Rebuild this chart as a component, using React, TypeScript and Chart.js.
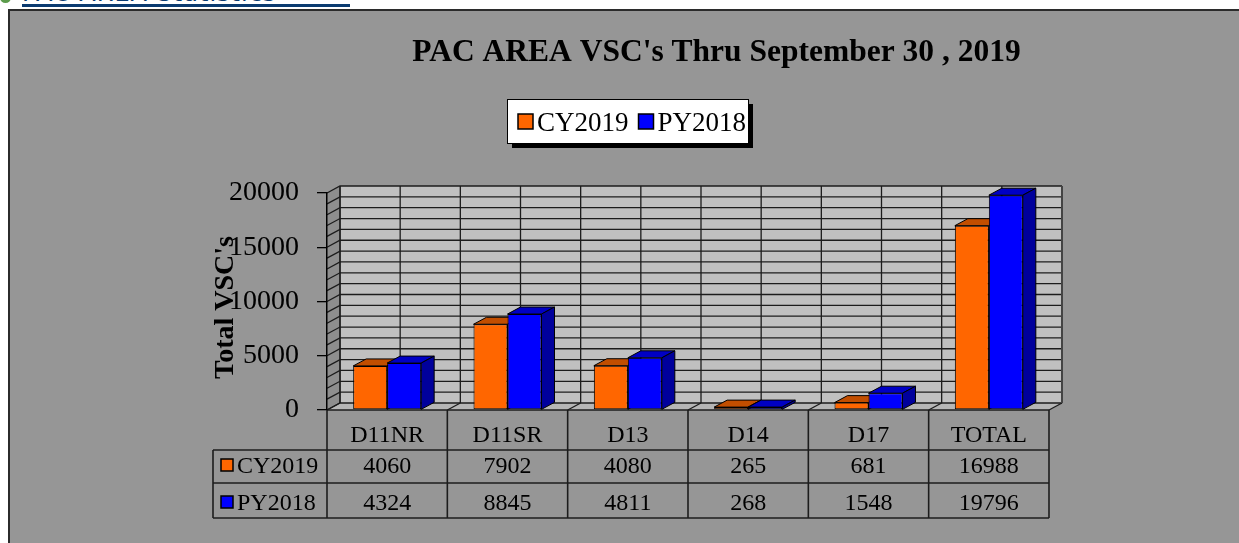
import React, { useEffect, useRef } from "react";
import { Chart, registerables } from "chart.js";

Chart.register(...registerables);

// ---------- data ----------
const categories = ["D11NR", "D11SR", "D13", "D14", "D17", "TOTAL"];
const cy2019 = [4060, 7902, 4080, 265, 681, 16988];
const py2018 = [4324, 8845, 4811, 268, 1548, 19796];
const seriesLabels = ["CY2019", "PY2018"];
const chartTitle = "PAC AREA VSC's Thru September 30 , 2019";
const yAxisTitle = "Total VSC's";
const pageLinkText = "PAC AREA Statistics";
const yMin = 0;
const yMax = 20000;
const yLabelStep = 5000;
const yGridStep = 1000;

// ---------- styles ----------
const SERIF = "'Liberation Serif', 'Times New Roman', serif";
const DX = 13;
const DY = 7;
const frontColors = ["#FF6600", "#0000FF"];
const topColors = ["#C24E00", "#0000C4"];
const sideColors = ["#B04600", "#00009C"];
const LINE = "#1c1c1c";

function poly(ctx: CanvasRenderingContext2D, pts: number[][], fill: string | null, stroke: string | null, lw = 1) {
  ctx.beginPath();
  ctx.moveTo(pts[0][0], pts[0][1]);
  for (let i = 1; i < pts.length; i++) ctx.lineTo(pts[i][0], pts[i][1]);
  ctx.closePath();
  if (fill) {
    ctx.fillStyle = fill;
    ctx.fill();
  }
  if (stroke) {
    ctx.strokeStyle = stroke;
    ctx.lineWidth = lw;
    ctx.stroke();
  }
}

function line(ctx: CanvasRenderingContext2D, pts: number[][], color = LINE, lw = 1.3) {
  ctx.beginPath();
  ctx.moveTo(pts[0][0], pts[0][1]);
  for (let i = 1; i < pts.length; i++) ctx.lineTo(pts[i][0], pts[i][1]);
  ctx.strokeStyle = color;
  ctx.lineWidth = lw;
  ctx.stroke();
}

const wallsPlugin = {
  id: "walls3d",
  beforeDraw(chart: any) {
    const ctx: CanvasRenderingContext2D = chart.ctx;
    const { left, right, top, bottom } = chart.chartArea;
    const ys = chart.scales.y;
    const xs = chart.scales.x;
    const n = categories.length;
    const cw = (right - left) / n;
    ctx.save();
    // back wall
    poly(ctx, [[left + DX, top - DY], [right + DX, top - DY], [right + DX, bottom - DY], [left + DX, bottom - DY]], "#C0C0C0", null);
    // side wall
    poly(ctx, [[left, bottom], [left, top], [left + DX, top - DY], [left + DX, bottom - DY]], "#8E8E8E", null);
    // floor
    poly(ctx, [[left, bottom], [right, bottom], [right + DX, bottom - DY], [left + DX, bottom - DY]], "#B6B6B6", null);
    // horizontal grid lines (side wall + back wall)
    for (let v = yMin; v <= yMax; v += yGridStep) {
      const y = ys.getPixelForValue(v);
      line(ctx, [[left, y], [left + DX, y - DY], [right + DX, y - DY]]);
    }
    // vertical grid lines on back wall: category boundaries and centres
    for (let i = 0; i < n; i++) {
      const c = xs.getPixelForValue(i);
      const xsList = [c - cw / 2, c];
      if (i === n - 1) xsList.push(c + cw / 2);
      for (const gx of xsList) {
        line(ctx, [[gx + DX, top - DY], [gx + DX, bottom - DY]]);
      }
      // floor diagonals at boundaries
      line(ctx, [[c - cw / 2, bottom], [c - cw / 2 + DX, bottom - DY]]);
      if (i === n - 1) line(ctx, [[c + cw / 2, bottom], [c + cw / 2 + DX, bottom - DY]]);
    }
    // outlines
    line(ctx, [[left + DX, bottom - DY], [left + DX, top - DY]]);
    line(ctx, [[right + DX, top - DY], [right + DX, bottom - DY]], "#444", 2);
    line(ctx, [[left, bottom], [right, bottom]]);
    ctx.restore();
  },
  beforeDatasetsDraw(chart: any) {
    const ctx: CanvasRenderingContext2D = chart.ctx;
    const metas = chart.data.datasets.map((_: any, i: number) => chart.getDatasetMeta(i));
    ctx.save();
    for (let j = 0; j < categories.length; j++) {
      metas.forEach((meta: any, d: number) => {
        const el = meta.data[j];
        if (!el) return;
        const { x, y, base, width } = el.getProps(["x", "y", "base", "width"], true);
        const L = x - width / 2;
        const R = x + width / 2;
        poly(ctx, [[L, y], [R, y], [R + DX, y - DY], [L + DX, y - DY]], topColors[d], "#000", 1);
        poly(ctx, [[R, y], [R + DX, y - DY], [R + DX, base - DY], [R, base]], sideColors[d], "#000", 1);
      });
    }
    ctx.restore();
  },
  afterDraw(chart: any) {
    const ctx: CanvasRenderingContext2D = chart.ctx;
    const { left, right, top, bottom } = chart.chartArea;
    const xs = chart.scales.x;
    const n = categories.length;
    const cw = (right - left) / n;
    ctx.save();

    // chart title
    ctx.fillStyle = "#000";
    ctx.font = `bold 31.5px ${SERIF}`;
    ctx.textAlign = "center";
    ctx.textBaseline = "alphabetic";
    ctx.fillText(chartTitle, 716.5, 61);

    // y axis title
    ctx.save();
    ctx.translate(233, 307.5);
    ctx.rotate(-Math.PI / 2);
    ctx.font = `bold 28px ${SERIF}`;
    ctx.textAlign = "center";
    ctx.fillText(yAxisTitle, 0, 0);
    ctx.restore();

    // legend box
    const bx = 507, by = 99, bw = 241, bh = 44;
    ctx.fillStyle = "#000";
    ctx.fillRect(bx + 5, by + 5, bw, bh);
    ctx.fillStyle = "#fff";
    ctx.fillRect(bx, by, bw, bh);
    ctx.strokeStyle = "#000";
    ctx.lineWidth = 1;
    ctx.strokeRect(bx + 0.5, by + 0.5, bw, bh);
    ctx.font = `27px ${SERIF}`;
    ctx.textAlign = "left";
    let lx = bx + 11;
    chart.data.datasets.forEach((ds: any) => {
      ctx.fillStyle = ds.backgroundColor;
      ctx.fillRect(lx, 114, 15, 15);
      ctx.strokeStyle = "#000";
      ctx.lineWidth = 1.5;
      ctx.strokeRect(lx, 114, 15, 15);
      ctx.fillStyle = "#000";
      ctx.fillText(ds.label, lx + 19, 131);
      lx += 19 + ctx.measureText(ds.label).width + 10;
    });

    // data table
    const tLeft = 213;
    const hB = bottom + 40;
    const r1B = bottom + 73;
    const r2B = bottom + 108;
    line(ctx, [[tLeft, hB], [right, hB]], LINE, 1.6);
    line(ctx, [[tLeft, r1B], [right, r1B]], LINE, 1.6);
    line(ctx, [[tLeft, r2B], [right, r2B]], LINE, 1.6);
    line(ctx, [[tLeft, hB], [tLeft, r2B]], LINE, 1.6);
    for (let i = 0; i <= n; i++) {
      const bxl = i < n ? xs.getPixelForValue(i) - cw / 2 : xs.getPixelForValue(n - 1) + cw / 2;
      line(ctx, [[bxl, bottom], [bxl, r2B]], LINE, 1.6);
    }
    ctx.font = `24px ${SERIF}`;
    ctx.fillStyle = "#000";
    ctx.textAlign = "center";
    const rows = [cy2019, py2018];
    const rowBase = [bottom + 63, bottom + 100];
    for (let i = 0; i < n; i++) {
      const cx = xs.getPixelForValue(i);
      ctx.fillText(categories[i], cx, bottom + 32);
      rows.forEach((r, k) => ctx.fillText(String(r[i]), cx, rowBase[k]));
    }
    ctx.textAlign = "left";
    chart.data.datasets.forEach((ds: any, d: number) => {
      const ky = rowBase[d] - 14;
      ctx.fillStyle = ds.backgroundColor;
      ctx.fillRect(221, ky, 12, 12);
      ctx.strokeStyle = "#000";
      ctx.lineWidth = 1.5;
      ctx.strokeRect(221, ky, 12, 12);
      ctx.fillStyle = "#000";
      ctx.fillText(seriesLabels[d], 237, rowBase[d]);
    });
    ctx.restore();
  },
};

export default function App() {
  const ref = useRef<HTMLCanvasElement>(null);
  useEffect(() => {
    if (!ref.current) return;
    const chart = new Chart(ref.current, {
      type: "bar",
      data: {
        labels: categories,
        datasets: [
          { label: seriesLabels[0], data: cy2019, backgroundColor: frontColors[0], borderColor: "#000", borderWidth: 1, borderSkipped: false },
          { label: seriesLabels[1], data: py2018, backgroundColor: frontColors[1], borderColor: "#000", borderWidth: 1, borderSkipped: false },
        ],
      },
      options: {
        animation: false,
        responsive: false,
        devicePixelRatio: 1,
        layout: { padding: { left: 207, right: 190, top: 193, bottom: 133 } },
        datasets: { bar: { categoryPercentage: 0.565, barPercentage: 1 } },
        plugins: { legend: { display: false }, title: { display: false }, tooltip: { enabled: false } },
        scales: {
          x: { display: false, offset: true },
          y: {
            min: yMin,
            max: yMax,
            afterFit: (s: any) => {
              s.width = 120;
            },
            ticks: {
              stepSize: yLabelStep,
              padding: 18,
              color: "#000",
              font: { family: SERIF, size: 28 },
              callback: (v: any) => String(v),
            },
            grid: { drawOnChartArea: false, drawTicks: true, tickLength: 10, color: "#000", lineWidth: 1.3 },
            border: { display: true, color: "#000", width: 1.5 },
          },
        },
      } as any,
      plugins: [wallsPlugin],
    });
    return () => chart.destroy();
  }, []);

  return (
    <div style={{ position: "fixed", left: 0, top: 0, width: 1239, height: 543, overflow: "hidden", background: "#fff" }}>
      <div style={{ position: "absolute", left: 0, top: -8, width: 11, height: 11, borderRadius: "50%", background: "#5c9c4c" }} />
      <div
        style={{
          position: "absolute",
          left: 22,
          top: -20,
          fontFamily: "'DejaVu Sans', sans-serif",
          fontSize: 24,
          lineHeight: "26px",
          color: "#0b3b70",
          whiteSpace: "nowrap",
          letterSpacing: 1,
        }}
      >
        {pageLinkText}
      </div>
      <div style={{ position: "absolute", left: 22, top: 4, width: 328, height: 2.5, background: "#0b3b70" }} />
      <div
        style={{
          position: "absolute",
          left: 8,
          top: 9,
          width: 1400,
          height: 700,
          borderTop: "2px solid #2b2b2b",
          borderLeft: "2px solid #2b2b2b",
          background: "#969696",
        }}
      />
      <canvas ref={ref} width={1239} height={543} style={{ position: "absolute", left: 0, top: 0 }} />
    </div>
  );
}
